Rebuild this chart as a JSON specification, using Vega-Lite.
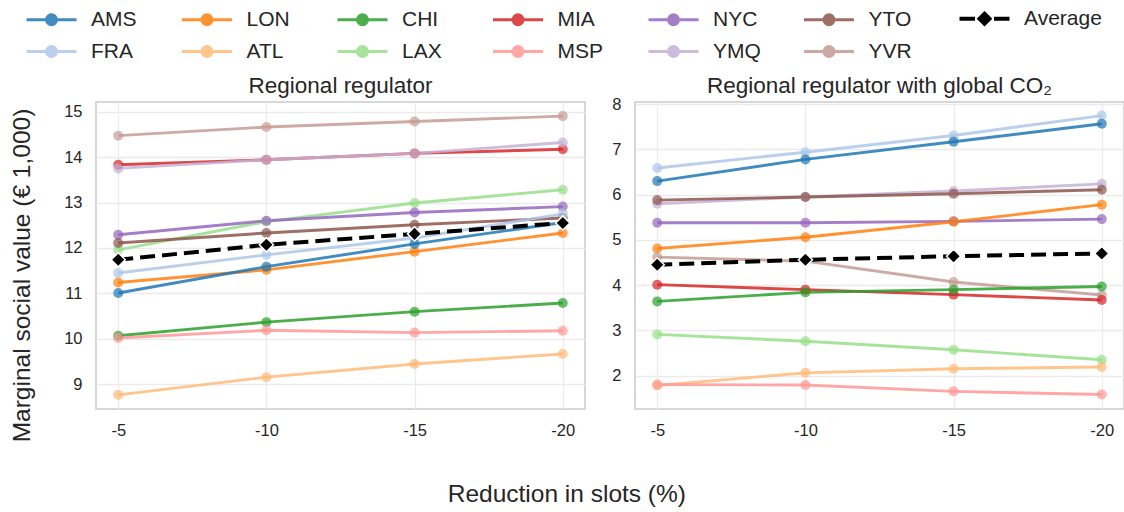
{
  "$schema": "https://vega.github.io/schema/vega-lite/v6.json",
  "background": "white",
  "padding": {"left": 8, "top": 8, "right": 2, "bottom": 4},
  "config": {
    "font": "Liberation Sans",
    "view": {"stroke": "#cccccc", "strokeWidth": 1.6},
    "axis": {"grid": true, "gridColor": "#ebebeb", "gridWidth": 1.3, "domain": false, "ticks": false, "labelFontSize": 16.5, "labelColor": "#262626", "labelPadding": 14, "titleFontSize": 24.5, "titleFontWeight": "normal", "titleColor": "#262626", "titlePadding": 29},
    "axisX": {"labelPadding": 13},
    "title": {"fontSize": 22.5, "fontWeight": "normal", "color": "#262626", "offset": 5, "frame": "group"},
    "concat": {"spacing": 25}
  },
  "datasets": {
    "d": [
      {"p": "L", "city": "YVR", "r": -5, "v": 14.47}, {"p": "L", "city": "YVR", "r": -10, "v": 14.66}, {"p": "L", "city": "YVR", "r": -15, "v": 14.78}, {"p": "L", "city": "YVR", "r": -20, "v": 14.90},
      {"p": "L", "city": "MIA", "r": -5, "v": 13.83}, {"p": "L", "city": "MIA", "r": -10, "v": 13.94}, {"p": "L", "city": "MIA", "r": -15, "v": 14.08}, {"p": "L", "city": "MIA", "r": -20, "v": 14.17},
      {"p": "L", "city": "YMQ", "r": -5, "v": 13.75}, {"p": "L", "city": "YMQ", "r": -10, "v": 13.94}, {"p": "L", "city": "YMQ", "r": -15, "v": 14.08}, {"p": "L", "city": "YMQ", "r": -20, "v": 14.32},
      {"p": "L", "city": "LAX", "r": -5, "v": 11.96}, {"p": "L", "city": "LAX", "r": -10, "v": 12.58}, {"p": "L", "city": "LAX", "r": -15, "v": 12.99}, {"p": "L", "city": "LAX", "r": -20, "v": 13.28},
      {"p": "L", "city": "NYC", "r": -5, "v": 12.29}, {"p": "L", "city": "NYC", "r": -10, "v": 12.60}, {"p": "L", "city": "NYC", "r": -15, "v": 12.78}, {"p": "L", "city": "NYC", "r": -20, "v": 12.91},
      {"p": "L", "city": "YTO", "r": -5, "v": 12.11}, {"p": "L", "city": "YTO", "r": -10, "v": 12.33}, {"p": "L", "city": "YTO", "r": -15, "v": 12.51}, {"p": "L", "city": "YTO", "r": -20, "v": 12.66},
      {"p": "L", "city": "Average", "r": -5, "v": 11.74}, {"p": "L", "city": "Average", "r": -10, "v": 12.07}, {"p": "L", "city": "Average", "r": -15, "v": 12.31}, {"p": "L", "city": "Average", "r": -20, "v": 12.55},
      {"p": "L", "city": "FRA", "r": -5, "v": 11.45}, {"p": "L", "city": "FRA", "r": -10, "v": 11.85}, {"p": "L", "city": "FRA", "r": -15, "v": 12.22}, {"p": "L", "city": "FRA", "r": -20, "v": 12.75},
      {"p": "L", "city": "LON", "r": -5, "v": 11.24}, {"p": "L", "city": "LON", "r": -10, "v": 11.52}, {"p": "L", "city": "LON", "r": -15, "v": 11.92}, {"p": "L", "city": "LON", "r": -20, "v": 12.33},
      {"p": "L", "city": "AMS", "r": -5, "v": 11.01}, {"p": "L", "city": "AMS", "r": -10, "v": 11.59}, {"p": "L", "city": "AMS", "r": -15, "v": 12.09}, {"p": "L", "city": "AMS", "r": -20, "v": 12.56},
      {"p": "L", "city": "CHI", "r": -5, "v": 10.07}, {"p": "L", "city": "CHI", "r": -10, "v": 10.37}, {"p": "L", "city": "CHI", "r": -15, "v": 10.60}, {"p": "L", "city": "CHI", "r": -20, "v": 10.79},
      {"p": "L", "city": "MSP", "r": -5, "v": 10.02}, {"p": "L", "city": "MSP", "r": -10, "v": 10.19}, {"p": "L", "city": "MSP", "r": -15, "v": 10.14}, {"p": "L", "city": "MSP", "r": -20, "v": 10.18},
      {"p": "L", "city": "ATL", "r": -5, "v": 8.77}, {"p": "L", "city": "ATL", "r": -10, "v": 9.16}, {"p": "L", "city": "ATL", "r": -15, "v": 9.45}, {"p": "L", "city": "ATL", "r": -20, "v": 9.67},
      {"p": "R", "city": "FRA", "r": -5, "v": 6.59}, {"p": "R", "city": "FRA", "r": -10, "v": 6.94}, {"p": "R", "city": "FRA", "r": -15, "v": 7.31}, {"p": "R", "city": "FRA", "r": -20, "v": 7.75},
      {"p": "R", "city": "AMS", "r": -5, "v": 6.30}, {"p": "R", "city": "AMS", "r": -10, "v": 6.78}, {"p": "R", "city": "AMS", "r": -15, "v": 7.17}, {"p": "R", "city": "AMS", "r": -20, "v": 7.57},
      {"p": "R", "city": "YMQ", "r": -5, "v": 5.80}, {"p": "R", "city": "YMQ", "r": -10, "v": 5.95}, {"p": "R", "city": "YMQ", "r": -15, "v": 6.08}, {"p": "R", "city": "YMQ", "r": -20, "v": 6.24},
      {"p": "R", "city": "YTO", "r": -5, "v": 5.88}, {"p": "R", "city": "YTO", "r": -10, "v": 5.95}, {"p": "R", "city": "YTO", "r": -15, "v": 6.02}, {"p": "R", "city": "YTO", "r": -20, "v": 6.11},
      {"p": "R", "city": "NYC", "r": -5, "v": 5.38}, {"p": "R", "city": "NYC", "r": -10, "v": 5.38}, {"p": "R", "city": "NYC", "r": -15, "v": 5.41}, {"p": "R", "city": "NYC", "r": -20, "v": 5.46},
      {"p": "R", "city": "LON", "r": -5, "v": 4.81}, {"p": "R", "city": "LON", "r": -10, "v": 5.06}, {"p": "R", "city": "LON", "r": -15, "v": 5.40}, {"p": "R", "city": "LON", "r": -20, "v": 5.78},
      {"p": "R", "city": "Average", "r": -5, "v": 4.45}, {"p": "R", "city": "Average", "r": -10, "v": 4.56}, {"p": "R", "city": "Average", "r": -15, "v": 4.64}, {"p": "R", "city": "Average", "r": -20, "v": 4.70},
      {"p": "R", "city": "YVR", "r": -5, "v": 4.62}, {"p": "R", "city": "YVR", "r": -10, "v": 4.53}, {"p": "R", "city": "YVR", "r": -15, "v": 4.07}, {"p": "R", "city": "YVR", "r": -20, "v": 3.78},
      {"p": "R", "city": "MIA", "r": -5, "v": 4.01}, {"p": "R", "city": "MIA", "r": -10, "v": 3.90}, {"p": "R", "city": "MIA", "r": -15, "v": 3.79}, {"p": "R", "city": "MIA", "r": -20, "v": 3.67},
      {"p": "R", "city": "CHI", "r": -5, "v": 3.64}, {"p": "R", "city": "CHI", "r": -10, "v": 3.84}, {"p": "R", "city": "CHI", "r": -15, "v": 3.90}, {"p": "R", "city": "CHI", "r": -20, "v": 3.97},
      {"p": "R", "city": "LAX", "r": -5, "v": 2.91}, {"p": "R", "city": "LAX", "r": -10, "v": 2.76}, {"p": "R", "city": "LAX", "r": -15, "v": 2.57}, {"p": "R", "city": "LAX", "r": -20, "v": 2.35},
      {"p": "R", "city": "ATL", "r": -5, "v": 1.78}, {"p": "R", "city": "ATL", "r": -10, "v": 2.06}, {"p": "R", "city": "ATL", "r": -15, "v": 2.15}, {"p": "R", "city": "ATL", "r": -20, "v": 2.19},
      {"p": "R", "city": "MSP", "r": -5, "v": 1.80}, {"p": "R", "city": "MSP", "r": -10, "v": 1.79}, {"p": "R", "city": "MSP", "r": -15, "v": 1.65}, {"p": "R", "city": "MSP", "r": -20, "v": 1.58}
    ]
  },
  "data": {"name": "d"},
  "title": {"text": "Reduction in slots (%)", "orient": "bottom", "anchor": "middle", "fontSize": 24.5, "offset": 40, "frame": "bounds"},
  "hconcat": [
    {
      "width": 489, "height": 307,
      "title": {"text": "Regional regulator"},
      "transform": [{"filter": "datum.p === 'L'"}],
      "encoding": {
        "x": {"field": "r", "type": "ordinal", "sort": "descending", "scale": {"type": "point", "padding": 0.15}, "axis": {"title": null, "labelAngle": 0}},
        "y": {"field": "v", "type": "quantitative", "scale": {"domain": [8.46, 15.21], "nice": false, "zero": false}, "axis": {"title": "Marginal social value (€ 1,000)", "titleY": 173, "values": [9, 10, 11, 12, 13, 14, 15]}},
        "order": {"field": "r", "sort": "descending"}
      },
      "layer": [
        {
          "transform": [{"filter": "datum.city !== 'Average'"}],
          "mark": {"type": "line", "strokeWidth": 2.9, "opacity": 0.85},
          "encoding": {
            "color": {
              "field": "city", "type": "nominal",
              "scale": {
                "domain": ["AMS", "LON", "CHI", "MIA", "NYC", "YTO", "Average", "FRA", "ATL", "LAX", "MSP", "YMQ", "YVR"],
                "range": ["#1f77b4", "#ff7f0e", "#2ca02c", "#d62728", "#9467bd", "#8c564b", "#000000", "#aec7e8", "#ffbb78", "#98df8a", "#ff9896", "#c5b0d5", "#c49c94"]
              },
              "legend": {
                "orient": "none", "legendX": -55, "legendY": -94, "direction": "horizontal", "columns": 7, "title": null, "padding": 0,
                "symbolType": "M-1,0L1,0M0.2,0A0.2,0.2,0,1,1,-0.2,0A0.2,0.2,0,1,1,0.2,0Z",
                "symbolSize": 2500, "symbolStrokeWidth": 3, "symbolOpacity": 0.85,
                "labelFontSize": 21, "labelColor": "#262626", "labelOffset": 29, "labelLimit": 300,
                "columnPadding": 4.5, "rowPadding": 8, "gridAlign": "all",
                "encode": {
                  "symbols": {
                    "update": {
                      "shape": {"signal": "datum.value === 'Average' ? 'M-1,0L-0.38,0M0.38,0L1,0M0,-0.2L0.2,0L0,0.2L-0.2,0Z' : 'M-1,0L1,0M0.2,0A0.2,0.2,0,1,1,-0.2,0A0.2,0.2,0,1,1,0.2,0Z'"},
                      "strokeWidth": {"signal": "datum.value === 'Average' ? 4 : 3"},
                      "fill": {"scale": "color", "field": "value"},
                      "stroke": {"scale": "color", "field": "value"},
                      "opacity": {"signal": "datum.value === 'Average' ? 1 : 0.85"}
                    }
                  }
                }
              }
            }
          }
        },
        {
          "transform": [{"filter": "datum.city !== 'Average'"}],
          "mark": {"type": "point", "filled": true, "size": 100, "opacity": 0.7},
          "encoding": {"color": {"field": "city", "type": "nominal"}}
        },
        {
          "transform": [{"filter": "datum.city === 'Average'"}],
          "mark": {"type": "line", "color": "black", "strokeWidth": 4, "strokeDash": [15, 7]}
        },
        {
          "transform": [{"filter": "datum.city === 'Average'"}],
          "mark": {"type": "point", "shape": "diamond", "filled": true, "color": "black", "size": 200, "stroke": "white", "strokeWidth": 1.5, "opacity": 1}
        }
      ]
    },
    {
      "width": 489, "height": 307,
      "title": {"text": "Regional regulator with global CO₂", "offset": -1},
      "transform": [{"filter": "datum.p === 'R'"}],
      "encoding": {
        "x": {"field": "r", "type": "ordinal", "sort": "descending", "scale": {"type": "point", "padding": 0.15}, "axis": {"title": null, "labelAngle": 0}},
        "y": {"field": "v", "type": "quantitative", "scale": {"domain": [1.26, 8.05], "nice": false, "zero": false}, "axis": {"title": null, "values": [2, 3, 4, 5, 6, 7, 8]}},
        "order": {"field": "r", "sort": "descending"}
      },
      "layer": [
        {
          "transform": [{"filter": "datum.city !== 'Average'"}],
          "mark": {"type": "line", "strokeWidth": 2.9, "opacity": 0.85},
          "encoding": {"color": {"field": "city", "type": "nominal"}}
        },
        {
          "transform": [{"filter": "datum.city !== 'Average'"}],
          "mark": {"type": "point", "filled": true, "size": 100, "opacity": 0.7},
          "encoding": {"color": {"field": "city", "type": "nominal"}}
        },
        {
          "transform": [{"filter": "datum.city === 'Average'"}],
          "mark": {"type": "line", "color": "black", "strokeWidth": 4, "strokeDash": [15, 7]}
        },
        {
          "transform": [{"filter": "datum.city === 'Average'"}],
          "mark": {"type": "point", "shape": "diamond", "filled": true, "color": "black", "size": 200, "stroke": "white", "strokeWidth": 1.5, "opacity": 1}
        }
      ]
    }
  ]
}
